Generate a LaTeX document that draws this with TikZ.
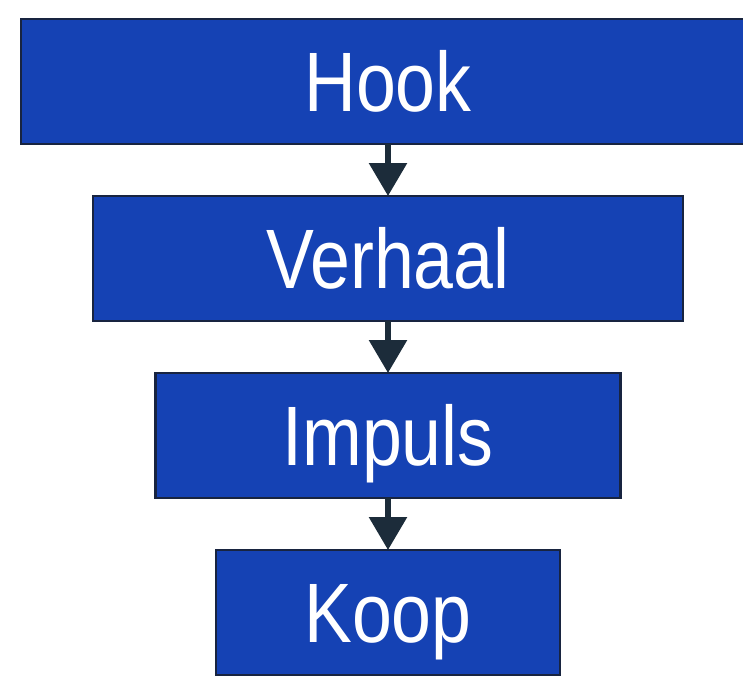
\documentclass[tikz,border=0pt]{standalone}
\usepackage{fontspec}
\setmainfont{Liberation Sans}[FakeStretch=0.85]
\usetikzlibrary{positioning, arrows.meta}
\definecolor{stepblue}{RGB}{21,66,180}
\definecolor{stepedge}{RGB}{24,36,64}
\definecolor{arrowdark}{RGB}{28,44,58}
\tikzstyle{funnel} = [rectangle, minimum height=2.5cm, text height=1.2cm, text depth=0cm, draw=stepedge, line width=1.6pt, fill=stepblue, text=white, outer sep=0pt, font=\fontsize{48}{58}\selectfont]
\tikzstyle{arrow} = [line width=3.4pt, draw=arrowdark, -{Triangle[width=0.74cm, length=0.66cm]}]

\begin{document}
\begin{tikzpicture}[
            node distance=1.04cm,
            every node/.style={text centered}
        ]
            \useasboundingbox (0,0) rectangle (14.86,-13.5);
            \clip (0,0) rectangle (14.86,-13.5);

            % Nodes
            \node (hook) [funnel, minimum width=14.68cm] at (7.76,-1.63) {Hook};
            \node (verhaal) [funnel, minimum width=11.8cm, below=of hook] {Verhaal};
            \node (impuls) [funnel, minimum width=9.3cm, below=of verhaal] {Impuls};
            \node (koop) [funnel, minimum width=6.88cm, below=of impuls] {Koop};

            % Arrows
            \draw [arrow] (hook) -- (verhaal);
            \draw [arrow] (verhaal) -- (impuls);
            \draw [arrow] (impuls) -- (koop);
        \end{tikzpicture}
\end{document}
